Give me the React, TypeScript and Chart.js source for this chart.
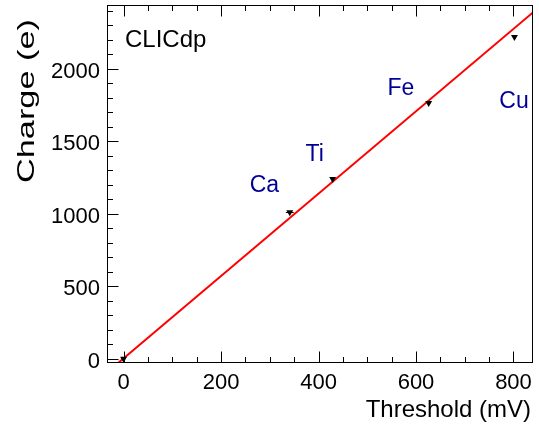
import { useEffect, useRef } from "react";
import { Chart, registerables } from "chart.js";

Chart.register(...registerables);

// Measured thresholds (mV) and the corresponding charge (e) of the X-ray lines
const thresholds = [0, 341, 429, 626, 802];
const charges = [0, 1010, 1240, 1765, 2220];
const thresholdErrors = [0, 8, 3, 3, 3];

// Element annotations, anchored in data coordinates
const elementNames = ["Ca", "Ti", "Fe", "Cu"];
const elementLabelX = [289, 392, 569, 801];
const elementLabelY = [1193, 1407, 1862, 1772];

// Linear calibration fit
const fitSlope = 2.84;
const fitIntercept = 3;
const fitRange = [-40, 860];

// Axis ranges and tick values
const xRange = [-34, 838];
const yRange = [-22, 2440];
const xTickValues = [0, 200, 400, 600, 800];
const yTickValues = [0, 500, 1000, 1500, 2000];
const xMinorStep = 50;
const yMinorStep = 100;

const FONT = '"Liberation Sans", Arial, Helvetica, sans-serif';
const LABEL_BLUE = "#000099";

const framePlugin = {
  id: "rootFrame",
  afterDatasetsDraw(chart: any) {
    const { ctx, scales } = chart;
    const xs = scales.x;
    const ys = scales.y;
    ctx.save();
    // horizontal error bars
    ctx.strokeStyle = "#000";
    ctx.lineWidth = 1;
    thresholds.forEach((t, i) => {
      const e = thresholdErrors[i];
      if (!e) return;
      const py = Math.round(ys.getPixelForValue(charges[i])) + 0.5;
      ctx.beginPath();
      ctx.moveTo(xs.getPixelForValue(t - e), py);
      ctx.lineTo(xs.getPixelForValue(t + e), py);
      ctx.stroke();
    });
    ctx.restore();
  },
  afterDraw(chart: any) {
    const { ctx, chartArea: a, scales } = chart;
    const xs = scales.x;
    const ys = scales.y;
    ctx.save();
    ctx.strokeStyle = "#000";
    ctx.lineWidth = 1;
    const L = Math.round(a.left) + 0.5;
    const R = Math.round(a.right) + 0.5;
    const T = Math.round(a.top) + 0.5;
    const B = Math.round(a.bottom) + 0.5;
    ctx.strokeRect(L, T, R - L, B - T);

    const major = 11;
    const minor = 5.5;
    ctx.beginPath();
    for (let v = Math.ceil(xRange[0] / xMinorStep) * xMinorStep; v <= xRange[1]; v += xMinorStep) {
      const px = Math.round(xs.getPixelForValue(v)) + 0.5;
      const len = xTickValues.includes(v) ? major : minor;
      ctx.moveTo(px, B);
      ctx.lineTo(px, B - len);
      ctx.moveTo(px, T);
      ctx.lineTo(px, T + len);
    }
    for (let v = Math.ceil(yRange[0] / yMinorStep) * yMinorStep; v <= yRange[1]; v += yMinorStep) {
      const py = Math.round(ys.getPixelForValue(v)) + 0.5;
      const len = yTickValues.includes(v) ? major : minor;
      ctx.moveTo(L, py);
      ctx.lineTo(L + len, py);
    }
    ctx.stroke();

    // element names
    ctx.fillStyle = LABEL_BLUE;
    ctx.font = `23px ${FONT}`;
    ctx.textAlign = "center";
    ctx.textBaseline = "middle";
    elementNames.forEach((n, i) => {
      ctx.fillText(n, xs.getPixelForValue(elementLabelX[i]), ys.getPixelForValue(elementLabelY[i]));
    });

    // experiment tag
    ctx.fillStyle = "#000";
    ctx.font = `24px ${FONT}`;
    ctx.textAlign = "left";
    ctx.fillText("CLICdp", a.left + 18, a.top + 35);

    // axis titles
    ctx.textAlign = "right";
    ctx.textBaseline = "middle";
    ctx.fillText("Threshold (mV)", a.right - 1, a.bottom + 48);

    const yTitle = "Charge (e)";
    const yTitleLength = 164;
    const stretch = yTitleLength / ctx.measureText(yTitle).width;
    ctx.translate(27, a.top + 14);
    ctx.rotate(-Math.PI / 2);
    ctx.scale(stretch, 1);
    ctx.fillText(yTitle, 0, 0);
    ctx.restore();
  },
};

export default function App() {
  const canvasRef = useRef<HTMLCanvasElement | null>(null);

  useEffect(() => {
    document.body.style.margin = "0";
    const canvas = canvasRef.current;
    if (!canvas) return;

    const points = thresholds.map((t, i) => ({ x: t, y: charges[i] }));
    const fitLine = fitRange.map((x) => ({ x, y: fitSlope * x + fitIntercept }));

    const chart = new Chart(canvas, {
      type: "scatter",
      data: {
        datasets: [
          {
            label: "data",
            data: points,
            order: 0,
            pointStyle: "triangle",
            rotation: 180,
            radius: 4,
            backgroundColor: "#000",
            borderColor: "#000",
            borderWidth: 0,
          },
          {
            type: "line",
            label: "fit",
            data: fitLine,
            order: 1,
            borderColor: "#ff0000",
            borderWidth: 2,
            pointRadius: 0,
            fill: false,
          } as any,
        ],
      },
      options: {
        animation: false,
        responsive: false,
        events: [],
        layout: { padding: { top: 5, right: 7, left: 0, bottom: 0 } },
        plugins: { legend: { display: false }, tooltip: { enabled: false } },
        scales: {
          x: {
            type: "linear",
            min: xRange[0],
            max: xRange[1],
            afterFit: (s: any) => {
              s.height = 66;
              s.paddingLeft = 0;
              s.paddingRight = 0;
            },
            afterBuildTicks: (s: any) => {
              s.ticks = xTickValues.map((v) => ({ value: v }));
            },
            grid: { display: false, drawTicks: false },
            border: { display: false },
            ticks: {
              color: "#000",
              font: { family: FONT, size: 22 },
              padding: 8,
              maxRotation: 0,
              autoSkip: false,
              callback: (v: any) => String(v),
            },
          },
          y: {
            type: "linear",
            min: yRange[0],
            max: yRange[1],
            afterFit: (s: any) => {
              s.width = 107;
              s.paddingTop = 0;
              s.paddingBottom = 0;
            },
            afterBuildTicks: (s: any) => {
              s.ticks = yTickValues.map((v) => ({ value: v }));
            },
            grid: { display: false, drawTicks: false },
            border: { display: false },
            ticks: {
              color: "#000",
              font: { family: FONT, size: 22 },
              padding: 7,
              labelOffset: 3,
              autoSkip: false,
              callback: (v: any) => String(v),
            },
          },
        },
      },
      plugins: [framePlugin],
    });

    return () => chart.destroy();
  }, []);

  return <canvas ref={canvasRef} width={539} height={428} style={{ display: "block" }} />;
}
